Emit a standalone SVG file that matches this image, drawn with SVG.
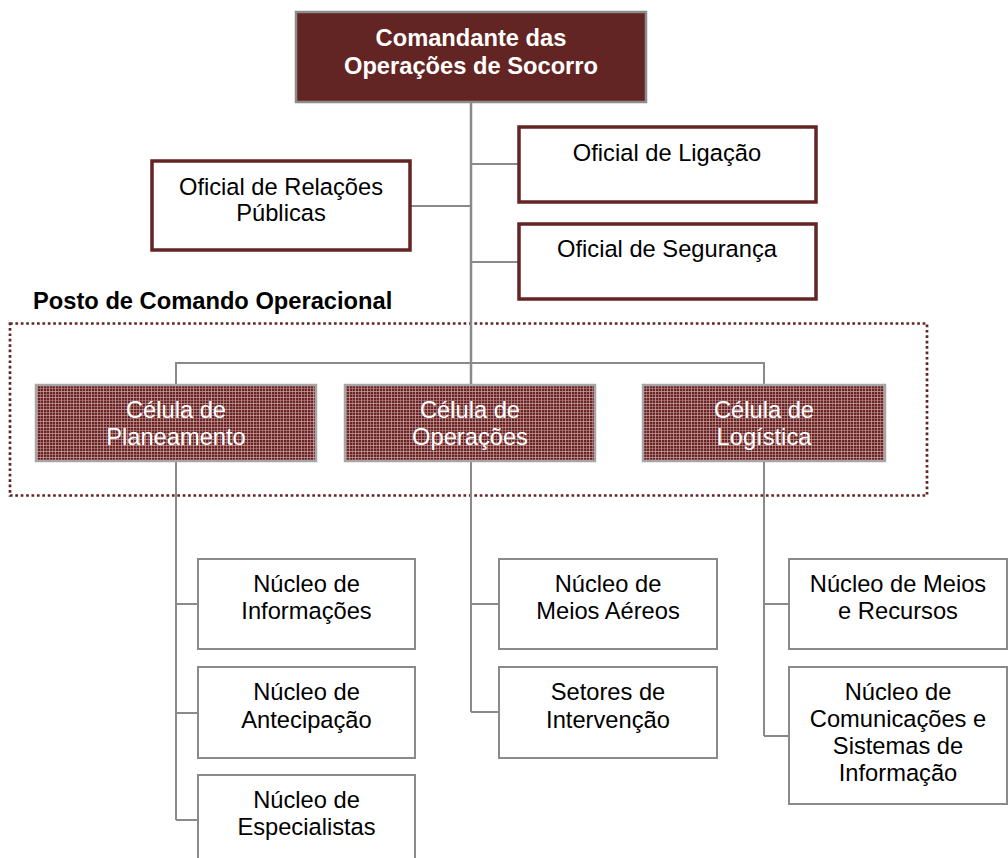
<svg xmlns="http://www.w3.org/2000/svg" width="1008" height="858" viewBox="0 0 1008 858">
<defs>
<pattern id="plaid" x="0" y="0" width="6" height="6" patternUnits="userSpaceOnUse">
<rect width="6" height="6" fill="#6a2424"/>
<rect x="1" y="0" width="1" height="6" fill="#c9a3a3" opacity="0.75"/>
<rect x="4" y="0" width="1" height="6" fill="#b98c8c" opacity="0.6"/>
<rect x="0" y="1" width="6" height="1" fill="#c9a3a3" opacity="0.75"/>
<rect x="0" y="4" width="6" height="1" fill="#b98c8c" opacity="0.6"/>
</pattern>
<style>
text{font-family:"Liberation Sans",Arial,sans-serif;font-size:23.7px;text-anchor:middle;}
.cmd{fill:#632523;stroke:#8c8c8c;stroke-width:2.5;}
.cmdt{fill:#ffffff;font-weight:bold;}
.off{fill:#ffffff;stroke:#632523;stroke-width:3.5;}
.cell{fill:url(#plaid);stroke:#a6a6a6;stroke-width:2.5;}
.cellt{fill:#ffffff;}
.nuc{fill:#ffffff;stroke:#8a8a8a;stroke-width:2;}
.blk{fill:#000000;}
.con{stroke:#8a8a8a;stroke-width:2;fill:none;}
</style>
</defs>
<rect width="1008" height="858" fill="#ffffff"/>

<g id="posto-frame">
<rect x="10" y="323.5" width="917" height="172" fill="none" stroke="#632523" stroke-width="2.7" stroke-dasharray="2.7 2.7"/>
<text x="33" y="309" style="text-anchor:start;font-weight:bold" class="blk">Posto de Comando Operacional</text>
</g>

<g id="connectors">
<line class="con" x1="471" y1="102" x2="471" y2="385" style="stroke-width:2.5"/>
<line class="con" x1="471" y1="164" x2="519" y2="164"/>
<line class="con" x1="410" y1="206" x2="471" y2="206"/>
<line class="con" x1="471" y1="262" x2="519" y2="262"/>
<polyline class="con" points="176,385 176,363 764,363 764,385"/>
<line class="con" x1="176" y1="461" x2="176" y2="820"/>
<line class="con" x1="176" y1="604" x2="198" y2="604"/>
<line class="con" x1="176" y1="713" x2="198" y2="713"/>
<line class="con" x1="176" y1="820" x2="198" y2="820"/>
<line class="con" x1="471" y1="461" x2="471" y2="712"/>
<line class="con" x1="471" y1="604" x2="499" y2="604"/>
<line class="con" x1="471" y1="712" x2="499" y2="712"/>
<line class="con" x1="764" y1="461" x2="764" y2="736"/>
<line class="con" x1="764" y1="604" x2="789" y2="604"/>
<line class="con" x1="764" y1="736" x2="789" y2="736"/>
</g>

<g id="comandante">
<rect class="cmd" x="296" y="12" width="350" height="90"/>
<text class="cmdt" x="471" y="46">Comandante das</text>
<text class="cmdt" x="471" y="74">Operações de Socorro</text>
</g>

<g id="oficial-ligacao">
<rect class="off" x="519" y="127" width="297" height="75"/>
<text class="blk" x="667" y="161">Oficial de Ligação</text>
</g>

<g id="oficial-relacoes">
<rect class="off" x="152" y="161" width="258" height="89"/>
<text class="blk" x="281" y="195">Oficial de Relações</text>
<text class="blk" x="281" y="221">Públicas</text>
</g>

<g id="oficial-seguranca">
<rect class="off" x="519" y="224" width="297" height="75"/>
<text class="blk" x="667" y="257">Oficial de Segurança</text>
</g>

<g id="celula-planeamento">
<rect class="cell" x="36" y="385" width="280" height="76"/>
<text class="cellt" x="176" y="418">Célula de</text>
<text class="cellt" x="176" y="445">Planeamento</text>
</g>

<g id="celula-operacoes">
<rect class="cell" x="345" y="385" width="250" height="76"/>
<text class="cellt" x="470" y="418">Célula de</text>
<text class="cellt" x="470" y="445">Operações</text>
</g>

<g id="celula-logistica">
<rect class="cell" x="643" y="385" width="242" height="76"/>
<text class="cellt" x="764" y="418">Célula de</text>
<text class="cellt" x="764" y="445">Logística</text>
</g>

<g id="nucleo-informacoes">
<rect class="nuc" x="198" y="559" width="217" height="90"/>
<text class="blk" x="306.5" y="592">Núcleo de</text>
<text class="blk" x="306.5" y="619">Informações</text>
</g>

<g id="nucleo-antecipacao">
<rect class="nuc" x="198" y="667" width="217" height="91"/>
<text class="blk" x="306.5" y="700">Núcleo de</text>
<text class="blk" x="306.5" y="728">Antecipação</text>
</g>

<g id="nucleo-especialistas">
<rect class="nuc" x="198" y="775" width="217" height="95"/>
<text class="blk" x="306.5" y="808">Núcleo de</text>
<text class="blk" x="306.5" y="835">Especialistas</text>
</g>

<g id="nucleo-meios-aereos">
<rect class="nuc" x="499" y="559" width="218" height="90"/>
<text class="blk" x="608" y="592">Núcleo de</text>
<text class="blk" x="608" y="619">Meios Aéreos</text>
</g>

<g id="setores-intervencao">
<rect class="nuc" x="499" y="667" width="218" height="91"/>
<text class="blk" x="608" y="700">Setores de</text>
<text class="blk" x="608" y="728">Intervenção</text>
</g>

<g id="nucleo-meios-recursos">
<rect class="nuc" x="789" y="559" width="218" height="90"/>
<text class="blk" x="898" y="592">Núcleo de Meios</text>
<text class="blk" x="898" y="619">e Recursos</text>
</g>

<g id="nucleo-comunicacoes">
<rect class="nuc" x="789" y="667" width="218" height="137"/>
<text class="blk" x="898" y="700">Núcleo de</text>
<text class="blk" x="898" y="727">Comunicações e</text>
<text class="blk" x="898" y="754">Sistemas de</text>
<text class="blk" x="898" y="781">Informação</text>
</g>
</svg>
